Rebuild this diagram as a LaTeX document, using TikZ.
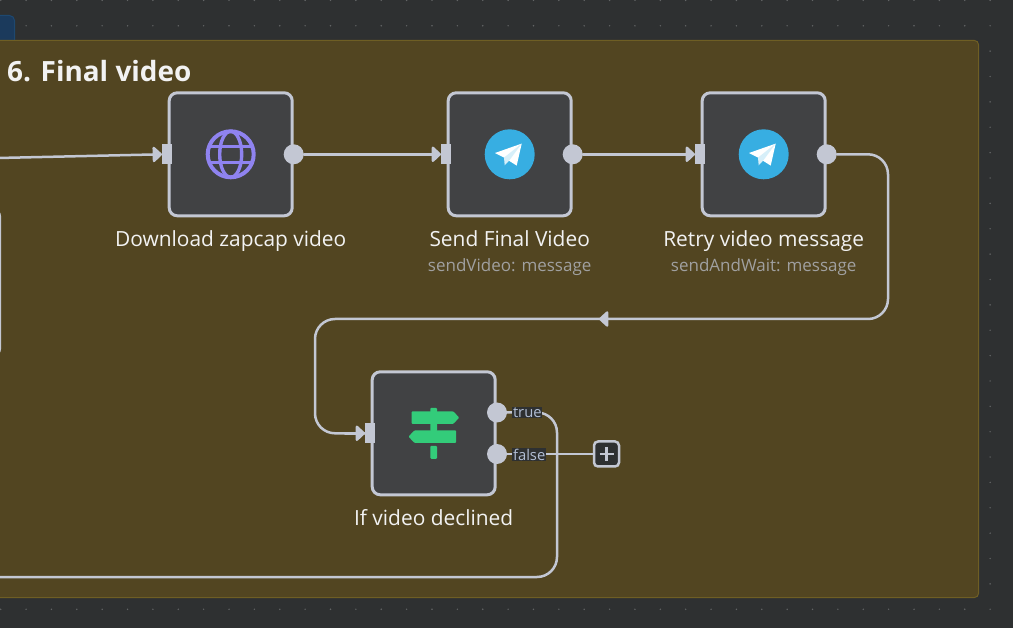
\documentclass[tikz,border=0pt]{standalone}
\usepackage{fontspec}
\usepackage{xcolor}
\usepackage{tikz}
\usetikzlibrary{arrows.meta,positioning}
\setmainfont{Open Sans}
\definecolor{canvasgray}{RGB}{46,48,49}
\definecolor{griddot}{RGB}{98,100,101}
\definecolor{groupbrown}{RGB}{82,69,33}
\definecolor{groupedge}{RGB}{110,94,36}
\definecolor{cardgray}{RGB}{65,66,68}
\definecolor{wiregray}{RGB}{195,199,211}
\definecolor{sublabel}{RGB}{160,160,160}
\definecolor{globeblue}{RGB}{143,131,240}
\definecolor{telegramblue}{RGB}{55,174,226}
\definecolor{signgreen}{RGB}{51,204,122}
\definecolor{tabblue}{RGB}{27,58,92}
\definecolor{tabedge}{RGB}{30,72,112}
\definecolor{tagtext}{RGB}{178,190,212}
\tikzset{
	cardbox/.style={rectangle, rounded corners=8pt, fill=cardgray, draw=wiregray,
		line width=3pt, minimum width=123pt, minimum height=123pt, inner sep=0pt},
	inport/.style={rectangle, fill=wiregray, minimum width=10pt, minimum height=20pt, inner sep=0pt, xshift=-0.5pt},
	outport/.style={circle, fill=wiregray, minimum size=20pt, inner sep=0pt},
	wire/.style={draw=wiregray, line width=2.5pt, line cap=round},
	wiretip/.style={wire, -{Triangle[length=10pt,width=18pt,round]}},
	cardlabel/.style={text=white!95!black, font=\fontsize{20.9}{24}\selectfont, inner sep=0pt,
		text height=15pt, text depth=5pt},
	cardsub/.style={text=sublabel, font=\fontsize{17}{19}\selectfont, inner sep=0pt,
		text height=12pt, text depth=4pt},
	tagbox/.style={fill=canvasgray, text=tagtext, font=\fontsize{14.8}{15}\selectfont,
		inner sep=0.8pt, anchor=west},
	planeicon/.pic={
		\fill[telegramblue] (0,0) circle (25);
		\fill[white] (12,-10.7) -- (-14.7,-1.3) -- (-5.7,3.3) -- (7,11.3) -- cycle;
		\fill[white!80!telegramblue] (-5.7,3.3) -- (12,-10.7) -- (-0.3,6) -- (-5,11) -- cycle;
	},
}
\begin{document}
\begin{tikzpicture}[x=1pt,y=-1pt]
	\useasboundingbox (0,0) rectangle (1013,628);
	\fill[canvasgray] (0,0) rectangle (1013,628);
	% canvas dots
	\foreach \i in {0,...,39}
		\foreach \j in {0,...,24}
			\fill[griddot] (0.7+25.37*\i,0.4+25.37*\j) circle (0.8);
	% group panels
	\fill[tabblue, draw=tabedge, line width=1pt, rounded corners=5pt] (-20,15.5) rectangle (14.5,60);
	\fill[groupbrown, draw=groupedge, line width=1pt, rounded corners=4pt] (-20,40.5) rectangle (978.5,597.5);
	\node[anchor=base west, inner sep=0pt, text=white!95!black,
		font=\fontsize{27.9}{32}\selectfont\bfseries] (title) at (7,82) {6. Final video};
	\fill[cardgray, draw=wiregray, line width=2pt, rounded corners=6pt] (-40,210) rectangle (0,355);

	% cards
	\node[cardbox] (download) at (230.7,154.3) {};
	\node[cardbox] (sendvideo) at (509.7,154.3) {};
	\node[cardbox] (retryvideo) at (763.7,154.3) {};
	\node[cardbox] (ifdeclined) at (433.7,433.3) {};

	\node[cardlabel, below=14.3pt of download] (downloadlabel) {Download zapcap video};
	\node[cardlabel, below=14.3pt of sendvideo] (sendlabel) {Send Final Video};
	\node[cardsub, below=7.4pt of sendlabel] (sendsub) {sendVideo: message};
	\node[cardlabel, below=14.3pt of retryvideo] (retrylabel) {Retry video message};
	\node[cardsub, below=7.4pt of retrylabel] (retrysub) {sendAndWait: message};
	\node[cardlabel, below=14.3pt of ifdeclined] (iflabel) {If video declined};

	% ports
	\node[inport] (downloadin) at (download.west) {};
	\node[inport] (sendin) at (sendvideo.west) {};
	\node[inport] (retryin) at (retryvideo.west) {};
	\node[inport] (ifin) at (ifdeclined.west) {};
	\node[outport] (downloadout) at (download.east) {};
	\node[outport] (sendout) at (sendvideo.east) {};
	\node[outport] (retryout) at (retryvideo.east) {};
	\node[outport] (iftrue) at (497,412.5) {};
	\node[outport] (iffalse) at (497,454) {};

	% free ends and bends
	\coordinate (leftin) at (-2,158);
	\coordinate (bendright) at (888,319);
	\coordinate (midfrom) at (620,319);
	\coordinate (midto) at (599,319);
	\coordinate (bendleft) at (315,319);
	\coordinate (truedown) at (557,577);
	\coordinate (leftout) at (-2,577);

	% connectors
	\draw[wiretip] (leftin) -- (downloadin.west);
	\draw[wiretip] (downloadout) -- (sendin.west);
	\draw[wiretip] (sendout) -- (retryin.west);
	\draw[wire, rounded corners=20pt] (retryout) -| (bendright) -- (bendleft) |- (ifin.west);
	\draw[wiretip] (ifin.west -| bendleft) ++(30,0) -- (ifin.west);
	\draw[wiretip] (midfrom) -- (midto);
	\draw[wire, rounded corners=20pt] (iftrue) -| (truedown) -- (leftout);

	\node[rectangle, rounded corners=4pt, fill=canvasgray, draw=wiregray, line width=2.5pt,
		minimum size=25pt, inner sep=0pt] (addnode) at (606.5,454) {};
	\draw[wire] (iffalse) -- (addnode);
	\draw[draw=wiregray, line width=2.6pt] (599.5,454) -- (613.5,454) (606.5,447) -- (606.5,461);

	\node[tagbox] (truetag) at (512,412.5) {true};
	\node[tagbox] (falsetag) at (512,454.5) {false};

	% icons
	\begin{scope}[shift={(download.center)}]
		\draw[globeblue, line width=4pt] (0,0) circle (23);
		\draw[globeblue, line width=3.4pt] (0,0) ellipse (11 and 23);
		\draw[globeblue, line width=3.4pt] (-23,-8) -- (23,-8) (-23,8) -- (23,8);
	\end{scope}
	\pic at (sendvideo.center) {planeicon};
	\pic at (retryvideo.center) {planeicon};
	\begin{scope}[shift={(ifdeclined.center)}]
		\fill[signgreen, rounded corners=1pt] (-3.3,-25.5) rectangle (3.3,-18);
		\fill[signgreen, rounded corners=1pt] (-3.3,-11) rectangle (3.3,-2);
		\fill[signgreen, rounded corners=1pt] (-3.3,12.5) rectangle (3.3,25.5);
		\fill[signgreen, rounded corners=1pt] (-22.2,-22) -- (19.5,-22) -- (25.5,-15.7) -- (19.5,-9.3) -- (-22.2,-9.3) -- cycle;
		\fill[signgreen, rounded corners=1pt] (22.5,-3) -- (-19.2,-3) -- (-25.2,3.3) -- (-19.2,9.7) -- (22.5,9.7) -- cycle;
	\end{scope}
\end{tikzpicture}
\end{document}
